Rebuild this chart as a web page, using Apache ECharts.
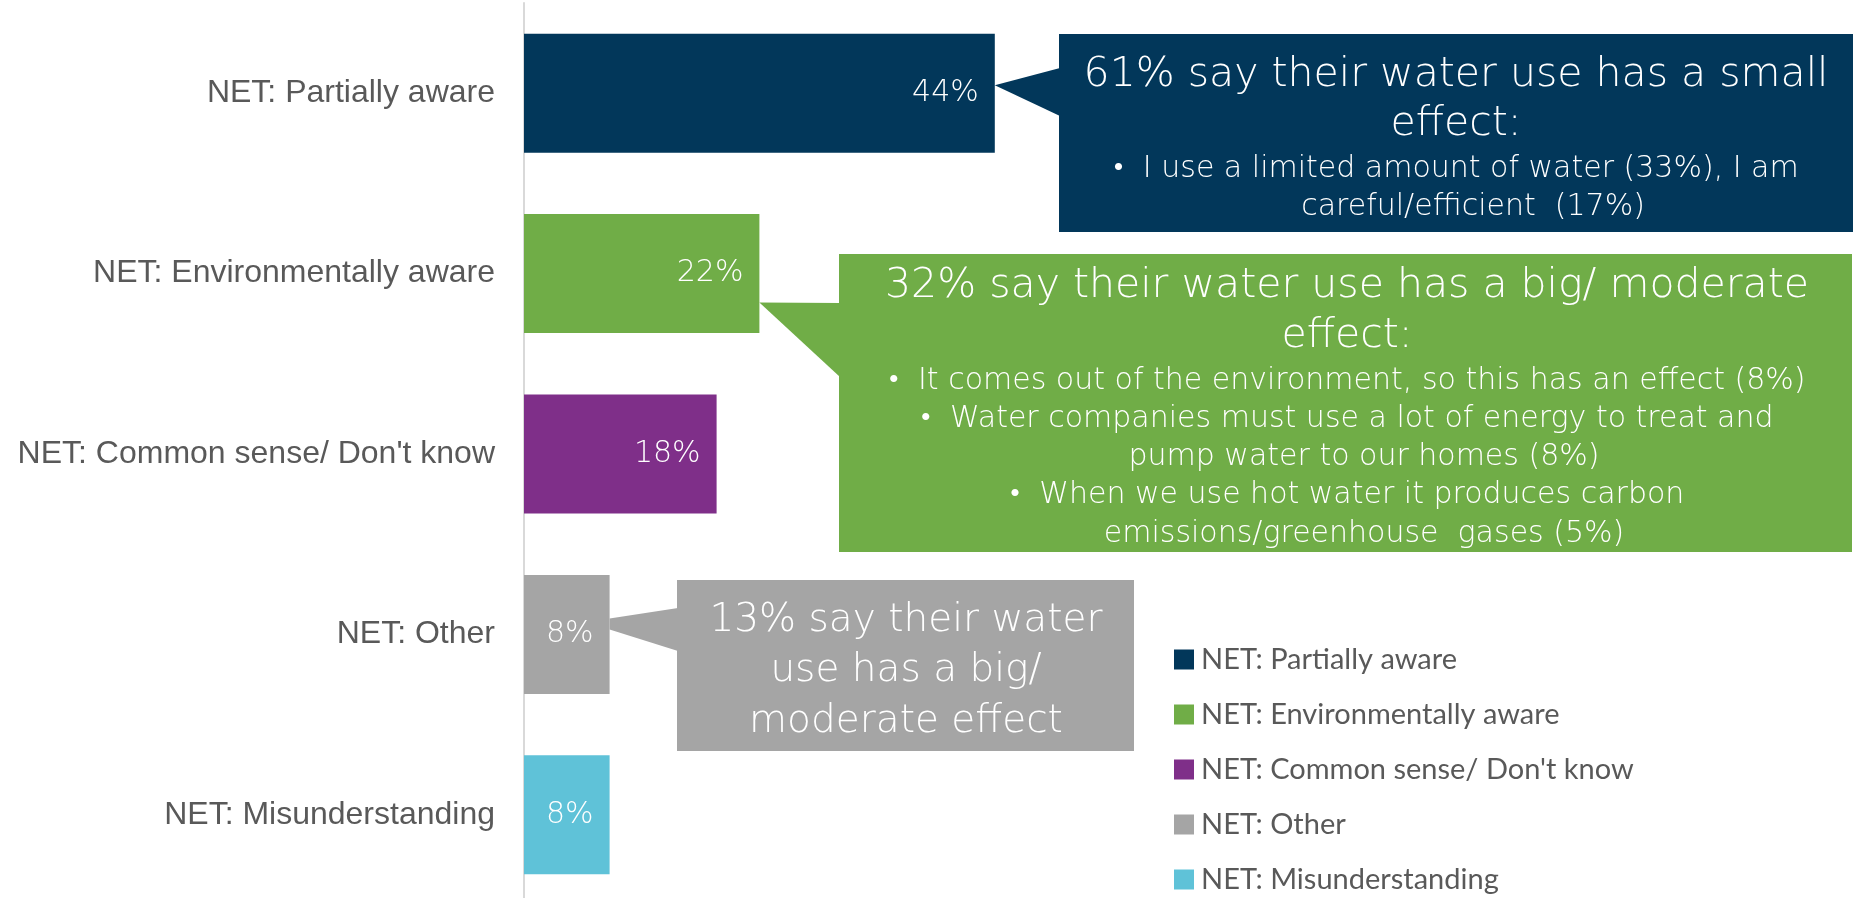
<!DOCTYPE html>
<html>
<head>
<meta charset="utf-8">
<script src="https://cdn.jsdelivr.net/npm/echarts@6/dist/echarts.min.js"></script>
<style>
  html, body { margin: 0; padding: 0; background: #ffffff; }
  #chart { width: 1865px; height: 898px; }
</style>
</head>
<body>
<div id="chart"></div>
<script>
// ---- Data ----
const categories = [
  'NET: Partially aware',
  'NET: Environmentally aware',
  "NET: Common sense/ Don't know",
  'NET: Other',
  'NET: Misunderstanding'
];
const values = [44, 22, 18, 8, 8];

const smallEffectHeading = ['61% say their water use has a small', 'effect:'];
const smallEffectBullets = [
  ['I use a limited amount of water (33%), I am', 'careful/efficient  (17%)']
];
const bigEffectHeading = ['32% say their water use has a big/ moderate', 'effect:'];
const bigEffectBullets = [
  ['It comes out of the environment, so this has an effect (8%)'],
  ['Water companies must use a lot of energy to treat and', 'pump water to our homes (8%)'],
  ['When we use hot water it produces carbon', 'emissions/greenhouse  gases (5%)']
];
const otherHeading = ['13% say their water', 'use has a big/', 'moderate effect'];

// ---- Styling ----
const barColors = ['#02375A', '#70AD47', '#7F2F89', '#A5A5A5', '#5FC2D8'];
const CALLOUT_FONT = '"DejaVu Sans"';
const CALLOUT_WEIGHT = 300;

const chart = echarts.init(document.getElementById('chart'), null, { renderer: 'canvas' });

const series = categories.map((name, i) => ({
  name: name,
  type: 'bar',
  stack: 'net',
  barWidth: 119,
  silent: true,
  itemStyle: { color: barColors[i] },
  label: {
    show: true,
    position: 'insideRight',
    distance: 16,
    color: '#ffffff',
    fontFamily: CALLOUT_FONT,
    fontWeight: CALLOUT_WEIGHT,
    fontSize: 30,
    formatter: p => p.value + '%'
  },
  data: values.map((v, j) => (j === i ? v : '-'))
}));

chart.setOption({
  animation: false,
  grid: {
    left: 524, top: 3, width: 1070, height: 902,
    containLabel: false,
    outerBoundsMode: 'none'
  },
  xAxis: { type: 'value', min: 0, max: 100, show: false },
  yAxis: {
    type: 'category',
    data: categories,
    inverse: true,
    axisLine: { show: true, lineStyle: { color: '#d9d9d9', width: 2 } },
    axisTick: { show: false },
    splitLine: { show: false },
    axisLabel: {
      color: '#595959',
      fontFamily: '"Liberation Sans", Arial, sans-serif',
      fontSize: 32,
      margin: 29
    }
  },
  legend: {
    data: categories,
    orient: 'vertical',
    left: 1174,
    top: 645,
    padding: 0,
    icon: 'rect',
    itemWidth: 20,
    itemHeight: 20,
    itemGap: 26,
    selectedMode: false,
    textStyle: {
      color: '#595959',
      fontFamily: 'Lato, sans-serif',
      fontSize: 29,
      padding: [0, 0, 0, 2]
    }
  },
  series: series
});

// ---- Callout boxes pointing at the bars ----
function barEnd(i) {
  return chart.convertToPixel({ gridIndex: 0 }, [values[i], i]);
}

function textLine(str, x, baseline, size, fill) {
  return {
    type: 'text',
    z: 20,
    silent: true,
    style: {
      text: str,
      x: x,
      y: baseline - size * 0.27,
      fill: fill,
      fontFamily: CALLOUT_FONT,
      fontWeight: CALLOUT_WEIGHT,
      fontSize: size,
      align: 'center',
      verticalAlign: 'middle'
    }
  };
}

function buildCallout(cfg) {
  const els = [];
  const end = barEnd(cfg.bar);
  const bx = cfg.box[0], by = cfg.box[1], bw = cfg.box[2], bh = cfg.box[3];
  // pointer
  const pts = cfg.pointer(end, bx);
  els.push({ type: 'polygon', z: 10, silent: true, shape: { points: pts }, style: { fill: cfg.color } });
  // box
  els.push({ type: 'rect', z: 11, silent: true, shape: { x: bx, y: by, width: bw, height: bh }, style: { fill: cfg.color } });
  // heading
  cfg.heading.forEach((t, k) => {
    els.push(textLine(t, cfg.cx, cfg.headBase + k * cfg.headStep, cfg.headSize, '#ffffff'));
  });
  // bullets
  let row = 0;
  (cfg.bullets || []).forEach(b => {
    b.forEach((t, k) => {
      const str = k === 0 ? '\u2022  ' + t : t;
      const x = k === 0 ? cfg.cx : cfg.cx + 17;
      els.push(textLine(str, x, cfg.bulletBase + row * cfg.bulletStep, cfg.bulletSize, '#ffffff'));
      row++;
    });
  });
  return els;
}

const callouts = [
  {
    bar: 0, color: barColors[0], box: [1059, 34, 794, 198], cx: 1456,
    pointer: (e, bx) => [[e[0], e[1] - 8], [bx + 1, 68], [bx + 1, 116]],
    heading: smallEffectHeading, headSize: 41, headBase: 86, headStep: 49,
    bullets: smallEffectBullets, bulletSize: 30, bulletBase: 177, bulletStep: 38
  },
  {
    bar: 1, color: barColors[1], box: [839, 254, 1013, 298], cx: 1347,
    pointer: (e, bx) => [[e[0], e[1] + 29], [bx + 1, 303], [bx + 1, 377]],
    heading: bigEffectHeading, headSize: 41, headBase: 297, headStep: 50,
    bullets: bigEffectBullets, bulletSize: 30, bulletBase: 389, bulletStep: 38.25
  },
  {
    bar: 3, color: barColors[3], box: [677, 580, 457, 171], cx: 906,
    pointer: (e, bx) => [[e[0], e[1] - 16], [bx + 1, 608], [bx + 1, 651], [e[0], e[1] - 5]],
    heading: otherHeading, headSize: 39, headBase: 631, headStep: 50.5
  }
];

let elements = [];
callouts.forEach(c => { elements = elements.concat(buildCallout(c)); });
chart.setOption({ graphic: { elements: elements } });
</script>
</body>
</html>
